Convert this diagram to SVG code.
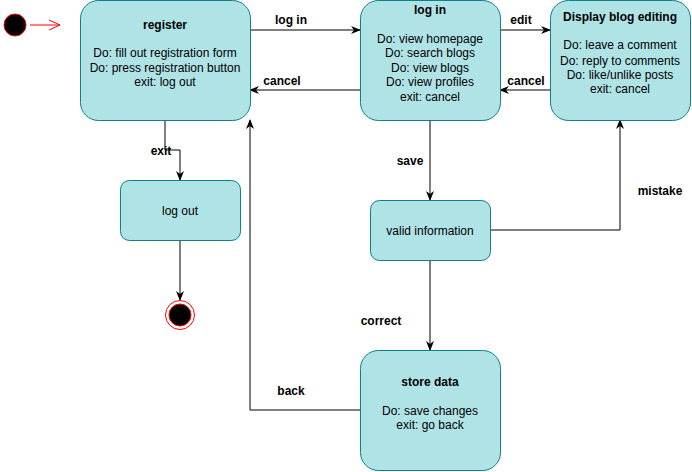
<svg xmlns="http://www.w3.org/2000/svg" width="692" height="472" viewBox="0 0 692 472">
<style>
.st{fill:#b0e3e6;stroke:#0e8088;stroke-width:1}
.t{font-family:"Liberation Sans",Arial,sans-serif;font-size:12px;fill:#000;text-anchor:middle}
.b{font-weight:bold}
.c{fill:none;stroke:#000;stroke-width:1}
</style>
<defs>
<marker id="ah" viewBox="0 0 10 10" refX="9" refY="5" markerWidth="10" markerHeight="10" markerUnits="userSpaceOnUse" orient="auto">
<path d="M0,1 L10,5 L0,9 L3,5 Z" fill="#000"/>
</marker>
<marker id="oa" viewBox="0 0 12 12" refX="11" refY="6" markerWidth="12" markerHeight="12" markerUnits="userSpaceOnUse" orient="auto">
<path d="M0,1 L11,6 L0,11" fill="none" stroke="#ff0000"/>
</marker>
</defs>
<g id="connectors">
<path class="c" d="M30,25 L60,25" stroke="#ff0000" style="stroke:#ff0000" marker-end="url(#oa)"/>
<path class="c" d="M250,30 L360,30" marker-end="url(#ah)"/>
<text class="t b" x="291" y="24">log in</text>
<path class="c" d="M360,90 L250,90" marker-end="url(#ah)"/>
<text class="t b" x="282" y="85">cancel</text>
<path class="c" d="M500,30 L550,30" marker-end="url(#ah)"/>
<text class="t b" x="521" y="24">edit</text>
<path class="c" d="M550,90 L500,90" marker-end="url(#ah)"/>
<text class="t b" x="526" y="85">cancel</text>
<path class="c" d="M165,120 L165,150 L180,150 L180,180" marker-end="url(#ah)"/>
<text class="t b" x="161" y="155">exit</text>
<path class="c" d="M180,240 L180,300" marker-end="url(#ah)"/>
<path class="c" d="M430,120 L430,200" marker-end="url(#ah)"/>
<text class="t b" x="410" y="165">save</text>
<path class="c" d="M490,230 L620,230 L620,120" marker-end="url(#ah)"/>
<text class="t b" x="660" y="195">mistake</text>
<path class="c" d="M430,260 L430,350" marker-end="url(#ah)"/>
<text class="t b" x="381" y="325">correct</text>
<path class="c" d="M360,410 L250,410 L250,120" marker-end="url(#ah)"/>
<text class="t b" x="291" y="395">back</text>
</g>
<g id="start">
<circle cx="15" cy="25" r="11" fill="#000" stroke="#ff0000" stroke-width="1"/>
</g>
<g id="register">
<rect class="st" x="80.5" y="0.5" width="170" height="120" rx="18"/>
<text class="t b" x="165" y="29">register</text>
<text class="t" x="165" y="57">Do: fill out registration form</text>
<text class="t" x="165" y="72">Do: press registration button</text>
<text class="t" x="165" y="86">exit: log out</text>
</g>
<g id="login">
<rect class="st" x="360.5" y="0.5" width="140" height="120" rx="18"/>
<text class="t b" x="430" y="14">log in</text>
<text class="t" x="430" y="43">Do: view homepage</text>
<text class="t" x="430" y="57">Do: search blogs</text>
<text class="t" x="430" y="72">Do: view blogs</text>
<text class="t" x="430" y="86">Do: view profiles</text>
<text class="t" x="430" y="101">exit: cancel</text>
</g>
<g id="display">
<rect class="st" x="550.5" y="0.5" width="140" height="120" rx="18"/>
<text class="t b" x="620" y="21">Display blog editing</text>
<text class="t" x="620" y="49">Do: leave a comment</text>
<text class="t" x="620" y="65">Do: reply to comments</text>
<text class="t" x="620" y="79">Do: like/unlike posts</text>
<text class="t" x="620" y="93">exit: cancel</text>
</g>
<g id="logout">
<rect class="st" x="120.5" y="180.5" width="120" height="60" rx="9"/>
<text class="t" x="180" y="215">log out</text>
</g>
<g id="end">
<circle cx="180" cy="315" r="14.5" fill="none" stroke="#ff0000" stroke-width="1"/>
<circle cx="180" cy="315" r="11" fill="#000" stroke="#ff0000" stroke-width="1"/>
</g>
<g id="valid">
<rect class="st" x="370.5" y="200.5" width="120" height="60" rx="9"/>
<text class="t" x="430" y="235">valid information</text>
</g>
<g id="store">
<rect class="st" x="360.5" y="350.5" width="140" height="120" rx="18"/>
<text class="t b" x="430" y="386">store data</text>
<text class="t" x="430" y="415">Do: save changes</text>
<text class="t" x="430" y="429">exit: go back</text>
</g>
</svg>
